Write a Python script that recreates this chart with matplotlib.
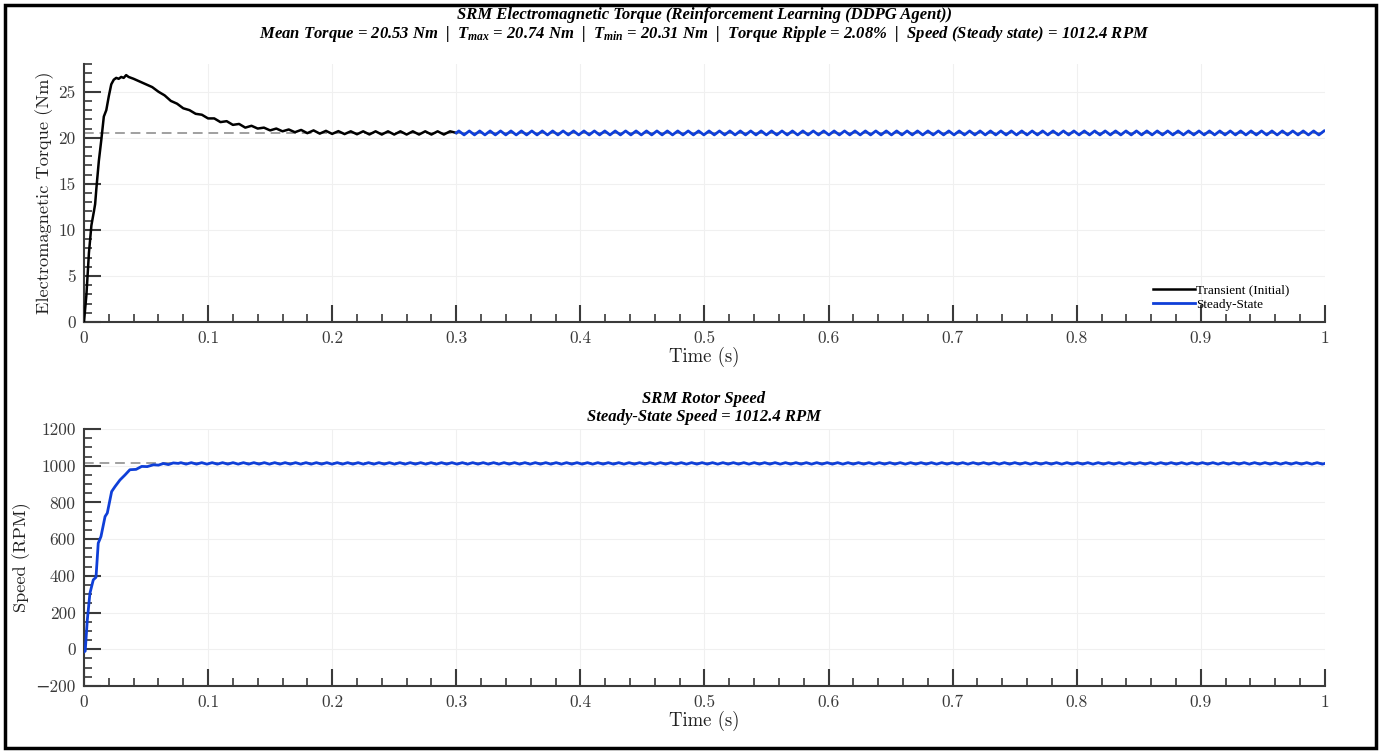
import numpy as np
import matplotlib
matplotlib.use("Agg")
import matplotlib.pyplot as plt
from matplotlib.patches import Rectangle
from matplotlib.ticker import MultipleLocator

# ---------------- data ----------------
mean_torque = 20.53
t_max = 20.74
t_min = 20.31
torque_ripple = 2.08
speed_ss = 1012.4

# transient torque (black)
t_tr = [0.000, 0.002, 0.004, 0.006, 0.008, 0.009, 0.010, 0.012, 0.014, 0.016,
        0.018, 0.020, 0.022, 0.024, 0.026, 0.028, 0.030, 0.032, 0.034, 0.036,
        0.038, 0.040, 0.045, 0.050, 0.055, 0.060, 0.065, 0.070, 0.075, 0.080,
        0.085, 0.090, 0.095, 0.100, 0.105, 0.110, 0.115, 0.120, 0.125, 0.130,
        0.135, 0.140, 0.145, 0.150, 0.155, 0.160, 0.165, 0.170, 0.175, 0.180,
        0.185, 0.190, 0.195, 0.200, 0.205, 0.210, 0.215, 0.220, 0.225, 0.230,
        0.235, 0.240, 0.245, 0.250, 0.255, 0.260, 0.265, 0.270, 0.275, 0.280,
        0.285, 0.290, 0.295, 0.300]
torque_tr = [0.0, 3.0, 7.5, 10.5, 12.0, 12.8, 14.5, 17.5, 19.8, 22.3,
             23.0, 24.5, 25.8, 26.3, 26.5, 26.4, 26.6, 26.5, 26.8, 26.6,
             26.5, 26.4, 26.1, 25.8, 25.5, 25.0, 24.6, 24.0, 23.7, 23.2,
             23.0, 22.6, 22.5, 22.1, 22.1, 21.7, 21.8, 21.4, 21.5, 21.1,
             21.3, 21.0, 21.1, 20.8, 21.0, 20.7, 20.9, 20.6, 20.85, 20.5,
             20.8, 20.45, 20.75, 20.42, 20.72, 20.4, 20.7, 20.38, 20.7, 20.36,
             20.7, 20.35, 20.7, 20.35, 20.7, 20.35, 20.7, 20.35, 20.7, 20.35,
             20.7, 20.35, 20.7, 20.53]

# steady-state torque ripple (blue): one ripple cycle, repeated
ss_start = 0.300
ss_end = 1.000
ripple_quarter_period = 0.0021
torque_cycle = [20.53, 20.74, 20.53, 20.31]

# rotor speed transient (blue)
t_sp = [0.000, 0.001, 0.0027, 0.0048, 0.0075, 0.0097, 0.0115, 0.0137, 0.017, 0.0188,
        0.0223, 0.025, 0.029, 0.033, 0.037, 0.042, 0.0465, 0.051, 0.056, 0.060,
        0.064, 0.068, 0.072]
speed_tr = [-15, -10, 160, 305, 378, 392, 578, 614, 723, 742,
            859, 886, 922, 949, 978, 980, 996, 995, 1005, 1003,
            1012, 1006, 1015]
speed_cycle = [1012.4, 1016.5, 1012.4, 1008.5]
sp_ss_start = 0.076

# ---------------- build series ----------------
t_ss = np.arange(ss_start, ss_end + 1e-9, ripple_quarter_period)
torque_ss = np.resize(torque_cycle, len(t_ss))
t_sp_ss = np.arange(sp_ss_start, ss_end + 1e-9, ripple_quarter_period)
speed_ss_vals = np.resize(speed_cycle, len(t_sp_ss))
t_speed = np.concatenate([t_sp, t_sp_ss])
speed_all = np.concatenate([speed_tr, speed_ss_vals])

# ---------------- style ----------------
plt.rcParams['font.family'] = ['cmr10', 'DejaVu Serif']
plt.rcParams['axes.unicode_minus'] = True
plt.rcParams['mathtext.fontset'] = 'custom'
plt.rcParams['mathtext.it'] = 'Liberation Serif:italic:bold'
plt.rcParams['mathtext.rm'] = 'Liberation Serif:italic:bold'
plt.rcParams['mathtext.bf'] = 'Liberation Serif:italic:bold'

BLUE = '#0f3fd8'
SPINE = '#3a3a3a'
TICKC = '#3a3a3a'
title_font = dict(family='Liberation Serif', weight='bold', style='italic', size=12)

fig = plt.figure(figsize=(13.81, 7.51), dpi=100)
ax1 = fig.add_axes([0.0608, 0.5712, 0.8986, 0.3435])
ax2 = fig.add_axes([0.0608, 0.0866, 0.8986, 0.3422])


def style_axes(ax, ymaj, ymin):
    for s in ['top', 'right']:
        ax.spines[s].set_visible(False)
    for s in ['left', 'bottom']:
        ax.spines[s].set_color(SPINE)
        ax.spines[s].set_linewidth(1.5)
    ax.set_xlim(0, 1)
    ax.xaxis.set_major_locator(MultipleLocator(0.1))
    ax.xaxis.set_minor_locator(MultipleLocator(0.02))
    ax.yaxis.set_major_locator(MultipleLocator(ymaj))
    ax.yaxis.set_minor_locator(MultipleLocator(ymin))
    ax.tick_params(which='major', direction='in', length=12, width=1.5, color=SPINE,
                   labelsize=12.5, labelcolor=TICKC, pad=6)
    ax.tick_params(which='minor', direction='in', length=6, width=1.2, color=SPINE)
    ax.grid(True, which='major', color='#f0f0f0', lw=0.8)
    ax.set_axisbelow(True)
    ax.xaxis.set_major_formatter(plt.FuncFormatter(lambda v, p: f"{v:g}"))
    ax.set_xlabel('Time (s)', fontsize=13.5, color='#222222', labelpad=1)


# ---- torque ----
style_axes(ax1, 5, 1)
ax1.set_ylim(0, 28)
ax1.axhline(mean_torque, color='#a0a0a0', ls=(0, (5, 3)), lw=1.4, zorder=2)
ax1.plot(t_tr, torque_tr, color='black', lw=1.8, label='Transient (Initial)', zorder=3)
ax1.plot(t_ss, torque_ss, color=BLUE, lw=2.0, label='Steady-State', zorder=3)
ax1.set_ylabel('Electromagnetic Torque (Nm)', fontsize=13.2, color='#222222', labelpad=3)
leg = ax1.legend(loc='lower right', frameon=False, prop=dict(family='Liberation Serif', size=9.5),
                 handlelength=3.2, handletextpad=0.1, labelspacing=0.15,
                 bbox_to_anchor=(0.981, -0.003))
line1 = 'SRM Electromagnetic Torque (Reinforcement Learning (DDPG Agent))'
line2 = (f'Mean Torque = {mean_torque:.2f} Nm  |  $T_{{max}}$ = {t_max:.2f} Nm  |  '
         f'$T_{{min}}$ = {t_min:.2f} Nm  |  Torque Ripple = {torque_ripple:.2f}%  |  '
         f'Speed (Steady state) = {speed_ss:.1f} RPM')
fig.text(0.5098, 1 - 15 / 751, line1, ha='center', va='center', **title_font)
fig.text(0.5098, 1 - 34 / 751, line2, ha='center', va='center', **title_font)

# ---- speed ----
style_axes(ax2, 200, 50)
ax2.set_ylim(-200, 1200)
ax2.axhline(speed_ss, color='#a0a0a0', ls=(0, (5, 3)), lw=1.4, zorder=2)
ax2.plot(t_speed, speed_all, color=BLUE, lw=2.0, zorder=3)
ax2.set_ylabel('Speed (RPM)', fontsize=13.2, color='#222222', labelpad=3)
fig.text(0.5098, 1 - 399 / 751, 'SRM Rotor Speed', ha='center', va='center', **title_font)
fig.text(0.5098, 1 - 417 / 751, f'Steady-State Speed = {speed_ss:.1f} RPM',
         ha='center', va='center', **title_font)

# figure border
fig.patches.append(Rectangle((5 / 1381, 3 / 751), 1371 / 1381, 743 / 751,
                             transform=fig.transFigure, fill=False, lw=2.5,
                             ec='black', zorder=10))

fig.savefig('out.png', dpi=100)
